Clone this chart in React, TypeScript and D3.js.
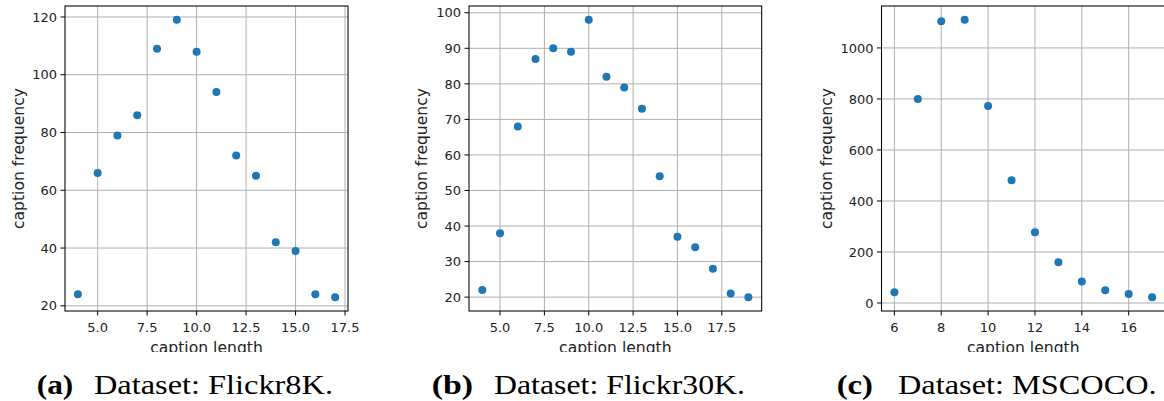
import React from "react";
import * as d3 from "d3";

// ---- Data ----
const flickr8kLengths = [4, 5, 6, 7, 8, 9, 10, 11, 12, 13, 14, 15, 16, 17];
const flickr8kFreq = [24, 66, 79, 86, 109, 119, 108, 94, 72, 65, 42, 39, 24, 23];

const flickr30kLengths = [4, 5, 6, 7, 8, 9, 10, 11, 12, 13, 14, 15, 16, 17, 18, 19];
const flickr30kFreq = [22, 38, 68, 87, 90, 89, 98, 82, 79, 73, 54, 37, 34, 28, 21, 20];

const mscocoLengths = [6, 7, 8, 9, 10, 11, 12, 13, 14, 15, 16, 17];
const mscocoFreq = [42, 800, 1105, 1110, 772, 481, 277, 160, 84, 50, 35, 23];

const flickr8kXTicks = [5, 7.5, 10, 12.5, 15, 17.5];
const flickr8kYTicks = [20, 40, 60, 80, 100, 120];
const flickr30kXTicks = [5, 7.5, 10, 12.5, 15, 17.5];
const flickr30kYTicks = [20, 30, 40, 50, 60, 70, 80, 90, 100];
const mscocoXTicks = [6, 8, 10, 12, 14, 16];
const mscocoYTicks = [0, 200, 400, 600, 800, 1000];

const captionLabels = ["(a)", "(b)", "(c)"];
const captionTexts = ["Dataset: Flickr8K.", "Dataset: Flickr30K.", "Dataset: MSCOCO."];

const xLabel = "caption length";
const yLabel = "caption frequency";

// ---- Layout ----
const W = 1164;
const H = 401;
const TOP = 6;
const BOTTOM = 311;
const CLIP_Y = 352;

type PanelCfg = {
  xs: number[];
  ys: number[];
  xTicks: number[];
  yTicks: number[];
  xFmt: (v: number) => string;
  left: number;
  right: number;
  yLabelX: number;
  cap: { labelX: number; labelW: number; textX: number; textW: number };
};

function padDomain(vals: number[]): [number, number] {
  const [mn, mx] = d3.extent(vals) as [number, number];
  const m = (mx - mn) * 0.05;
  return [mn - m, mx + m];
}

const fmt1 = d3.format(".1f");
const fmt0 = d3.format("d");

const panels: PanelCfg[] = [
  {
    xs: flickr8kLengths, ys: flickr8kFreq, xTicks: flickr8kXTicks, yTicks: flickr8kYTicks,
    xFmt: fmt1, left: 65, right: 348, yLabelX: 18,
    cap: { labelX: 36.7, labelW: 36.6, textX: 94, textW: 239 },
  },
  {
    xs: flickr30kLengths, ys: flickr30kFreq, xTicks: flickr30kXTicks, yTicks: flickr30kYTicks,
    xFmt: fmt1, left: 469, right: 761.7, yLabelX: 421,
    cap: { labelX: 431.7, labelW: 41.3, textX: 494, textW: 251 },
  },
  {
    xs: mscocoLengths, ys: mscocoFreq, xTicks: mscocoXTicks, yTicks: mscocoYTicks,
    xFmt: fmt0, left: 881.5, right: 1165, yLabelX: 826,
    cap: { labelX: 836.7, labelW: 36.3, textX: 898, textW: 258.7 },
  },
];

const SANS = "'DejaVu Sans', sans-serif";
const SERIF = "'Liberation Serif', 'DejaVu Serif', serif";

function Panel({ p, idx }: { p: PanelCfg; idx: number }) {
  const x = d3.scaleLinear().domain(padDomain(p.xs)).range([p.left, p.right]);
  const y = d3.scaleLinear().domain(padDomain(p.ys)).range([BOTTOM, TOP]);
  const clipId = `clip-${idx}`;
  const plotClip = `plot-${idx}`;
  return (
    <g>
      <defs>
        <clipPath id={clipId}>
          <rect x={0} y={0} width={W} height={CLIP_Y} />
        </clipPath>
        <clipPath id={plotClip}>
          <rect x={p.left} y={TOP} width={p.right - p.left} height={BOTTOM - TOP} />
        </clipPath>
      </defs>
      <g clipPath={`url(#${clipId})`}>
        {/* grid */}
        <g clipPath={`url(#${plotClip})`}>
          {p.xTicks.map((t) => (
            <line key={"gx" + t} x1={x(t)} x2={x(t)} y1={TOP} y2={BOTTOM} stroke="#b0b0b0" strokeWidth={1} />
          ))}
          {p.yTicks.map((t) => (
            <line key={"gy" + t} x1={p.left} x2={p.right} y1={y(t)} y2={y(t)} stroke="#b0b0b0" strokeWidth={1} />
          ))}
        </g>
        {/* points */}
        {p.xs.map((v, i) => (
          <circle key={i} cx={x(v)} cy={y(p.ys[i])} r={4} fill="#1f77b4" />
        ))}
        {/* spines */}
        <rect x={p.left} y={TOP} width={p.right - p.left} height={BOTTOM - TOP} fill="none" stroke="#000" strokeWidth={1.05} />
        {/* x ticks */}
        {p.xTicks.map((t) => (
          <g key={"xt" + t}>
            <line x1={x(t)} x2={x(t)} y1={BOTTOM} y2={BOTTOM + 4.5} stroke="#000" strokeWidth={1} />
            <text x={x(t)} y={331.5} textAnchor="middle" fontFamily={SANS} fontSize={13} fill="#222">
              {p.xFmt(t)}
            </text>
          </g>
        ))}
        {/* y ticks */}
        {p.yTicks.map((t) => (
          <g key={"yt" + t}>
            <line x1={p.left - 4.5} x2={p.left} y1={y(t)} y2={y(t)} stroke="#000" strokeWidth={1} />
            <text x={p.left - 8} y={y(t)} dy="0.36em" textAnchor="end" fontFamily={SANS} fontSize={13} fill="#222">
              {fmt0(t)}
            </text>
          </g>
        ))}
        {/* axis labels */}
        <text x={(p.left + Math.min(p.right, W + 1)) / 2} y={352.5} textAnchor="middle" fontFamily={SANS} fontSize={15.6} fill="#222">
          {xLabel}
        </text>
        <text
          transform={`translate(${p.yLabelX},${(TOP + BOTTOM) / 2}) rotate(-90)`}
          textAnchor="middle"
          dy="0.36em"
          fontFamily={SANS}
          fontSize={15.6}
          fill="#222"
        >
          {yLabel}
        </text>
      </g>
      {/* caption */}
      <text x={p.cap.labelX} y={393.5} fontFamily={SERIF} fontWeight="bold" fontSize={27}
        textLength={p.cap.labelW} lengthAdjust="spacingAndGlyphs" fill="#000">
        {captionLabels[idx]}
      </text>
      <text x={p.cap.textX} y={393.5} fontFamily={SERIF} fontSize={27}
        textLength={p.cap.textW} lengthAdjust="spacingAndGlyphs" fill="#000">
        {captionTexts[idx]}
      </text>
    </g>
  );
}

export default function App() {
  return (
    <svg
      width={W}
      height={H}
      viewBox={`0 0 ${W} ${H}`}
      style={{ position: "absolute", left: 0, top: 0, display: "block", background: "#fff" }}
    >
      <rect x={0} y={0} width={W} height={H} fill="#fff" />
      {panels.map((p, i) => (
        <Panel key={i} p={p} idx={i} />
      ))}
    </svg>
  );
}
